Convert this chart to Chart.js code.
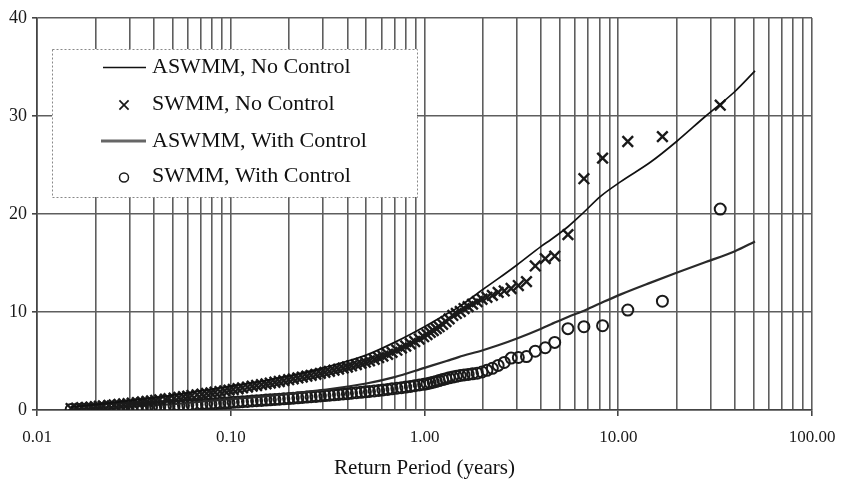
<!DOCTYPE html>
<html><head><meta charset="utf-8">
<script src="https://cdn.jsdelivr.net/npm/chart.js@4.4.1/dist/chart.umd.min.js"></script>
<style>html,body{margin:0;padding:0;background:#fff;}canvas{display:block;}</style>
</head><body>
<canvas id="c" width="852" height="484"></canvas>
<script>
// SWMM ranked events: return period (years)
const swmmReturnPeriod = [
  0.015, 0.016, 0.017, 0.018, 0.019, 0.020, 0.021, 0.022, 0.0235, 0.025,
  0.0265, 0.028, 0.0295, 0.031, 0.033, 0.035, 0.037, 0.039, 0.041, 0.043,
  0.046, 0.048, 0.051, 0.054, 0.057, 0.060, 0.063, 0.067, 0.071, 0.075,
  0.079, 0.083, 0.088, 0.093, 0.098, 0.103, 0.109, 0.115, 0.122, 0.129,
  0.136, 0.144, 0.152, 0.160, 0.169, 0.178, 0.188, 0.199, 0.21, 0.222,
  0.234, 0.247, 0.26, 0.275, 0.29, 0.306, 0.323, 0.341, 0.36, 0.38,
  0.40, 0.42, 0.445, 0.47, 0.495, 0.52, 0.55, 0.58, 0.61, 0.645,
  0.68, 0.72, 0.76, 0.80, 0.845, 0.89, 0.94, 0.99, 1.03, 1.07,
  1.11, 1.15, 1.19, 1.24, 1.29, 1.34, 1.40, 1.46, 1.53, 1.60,
  1.68, 1.77, 1.87, 1.98, 2.10, 2.24, 2.40, 2.58, 2.80, 3.05,
  3.36, 3.73, 4.20, 4.70, 5.50, 6.65, 8.30, 11.2, 16.9, 33.6
];
const swmmNoControl = [
  0.15, 0.19, 0.23, 0.27, 0.30, 0.34, 0.38, 0.42, 0.47, 0.52,
  0.56, 0.61, 0.65, 0.70, 0.76, 0.82, 0.88, 0.93, 0.99, 1.04,
  1.11, 1.15, 1.22, 1.29, 1.35, 1.42, 1.48, 1.55, 1.62, 1.69,
  1.75, 1.81, 1.88, 1.95, 2.02, 2.09, 2.17, 2.25, 2.34, 2.43,
  2.50, 2.59, 2.67, 2.75, 2.83, 2.91, 3.00, 3.09, 3.18, 3.27,
  3.36, 3.45, 3.54, 3.64, 3.74, 3.84, 3.95, 4.06, 4.17, 4.28,
  4.39, 4.50, 4.63, 4.76, 4.89, 5.02, 5.18, 5.34, 5.50, 5.69,
  5.88, 6.10, 6.32, 6.53, 6.76, 6.99, 7.24, 7.48, 7.70, 7.92,
  8.10, 8.30, 8.50, 8.75, 9.02, 9.30, 9.65, 9.85, 10.05, 10.35,
  10.55, 10.80, 11.05, 11.30, 11.50, 11.70, 12.00, 12.15, 12.40, 12.70,
  13.10, 14.70, 15.45, 15.70, 17.90, 23.60, 25.70, 27.40, 27.90, 31.10
];
const swmmWithControl = [
  0.05, 0.06, 0.08, 0.09, 0.11, 0.12, 0.13, 0.15, 0.16, 0.17,
  0.19, 0.20, 0.22, 0.23, 0.25, 0.27, 0.29, 0.31, 0.33, 0.34,
  0.37, 0.39, 0.42, 0.44, 0.46, 0.48, 0.51, 0.54, 0.57, 0.60,
  0.62, 0.65, 0.68, 0.71, 0.74, 0.78, 0.81, 0.85, 0.88, 0.92,
  0.95, 0.98, 1.01, 1.04, 1.07, 1.10, 1.14, 1.17, 1.21, 1.24,
  1.28, 1.32, 1.35, 1.39, 1.43, 1.47, 1.51, 1.55, 1.59, 1.63,
  1.67, 1.71, 1.76, 1.80, 1.85, 1.89, 1.94, 1.99, 2.04, 2.10,
  2.16, 2.22, 2.28, 2.34, 2.41, 2.48, 2.55, 2.62, 2.69, 2.76,
  2.84, 2.92, 3.00, 3.10, 3.20, 3.28, 3.36, 3.44, 3.52, 3.58,
  3.63, 3.69, 3.76, 3.88, 4.05, 4.25, 4.55, 4.85, 5.30, 5.36,
  5.45, 6.00, 6.35, 6.90, 8.30, 8.50, 8.60, 10.20, 11.10, 20.50
];
// ASWMM curves
const aswmmReturnPeriod = [0.015, 0.02, 0.03, 0.05, 0.07, 0.1, 0.15, 0.2, 0.3, 0.5, 0.7, 1.0, 1.3, 1.5, 2.0, 2.4, 3.0, 4.0, 4.5, 5.5, 6.5, 8.1, 10.3, 14.7, 20, 28.3, 40, 50.8];
const aswmmNoControl = [0.3, 0.55, 0.95, 1.5, 1.95, 2.45, 3.0, 3.5, 4.3, 5.6, 6.9, 8.5, 9.8, 10.5, 12.3, 13.4, 14.8, 16.7, 17.4, 18.7, 20.0, 21.8, 23.3, 25.3, 27.4, 30.0, 32.5, 34.6];
const aswmmWithControl = [0.1, 0.2, 0.35, 0.6, 0.85, 1.1, 1.4, 1.65, 2.05, 2.7, 3.35, 4.3, 5.0, 5.4, 6.1, 6.6, 7.3, 8.3, 8.75, 9.5, 10.05, 10.9, 11.8, 13.0, 14.0, 15.1, 16.2, 17.2];

const seriesNames = ['ASWMM, No Control', 'SWMM, No Control', 'ASWMM, With Control', 'SWMM, With Control'];
const xDecades = [0.01, 0.1, 1, 10, 100];
const xTickLabels = ['0.01', '0.10', '1.00', '10.00', '100.00'];
const yTicks = [0, 10, 20, 30, 40];
const xTitle = 'Return Period (years)';

const SERIF = "'Liberation Serif', 'Times New Roman', serif";
const pts = (xs, ys) => xs.map((x, i) => ({ x: x, y: ys[i] }));

const xGrid = [];
for (let i = 0; i < xDecades.length - 1; i++) {
  for (let k = 1; k < 10; k++) xGrid.push(+(xDecades[i] * k).toPrecision(4));
}
xGrid.push(xDecades[xDecades.length - 1]);
const isDecade = v => xDecades.some(d => Math.abs(d - v) / d < 1e-6);

const GRID = '#5e5e5e';

function drawX(ctx, x, y, r) {
  const o = r * Math.SQRT1_2;
  ctx.beginPath();
  ctx.moveTo(x - o, y - o); ctx.lineTo(x + o, y + o);
  ctx.moveTo(x + o, y - o); ctx.lineTo(x - o, y + o);
  ctx.stroke();
}

const boxLegend = {
  id: 'boxLegend',
  afterDraw(chart) {
    const ctx = chart.ctx;
    ctx.save();
    const bx = 52, by = 49, bw = 365, bh = 148;
    ctx.fillStyle = '#fff';
    ctx.fillRect(bx, by, bw, bh);
    ctx.setLineDash([2, 2]);
    ctx.strokeStyle = '#888';
    ctx.lineWidth = 1;
    ctx.strokeRect(bx + 0.5, by + 0.5, bw, bh);
    ctx.setLineDash([]);
    const rows = [66.5, 103, 140, 175.5];
    ctx.strokeStyle = '#111'; ctx.lineWidth = 1.6;
    ctx.beginPath(); ctx.moveTo(103, rows[0] + 1); ctx.lineTo(146, rows[0] + 1); ctx.stroke();
    ctx.strokeStyle = '#1a1a1a'; ctx.lineWidth = 1.7;
    drawX(ctx, 124, rows[1] + 2, 6.5);
    ctx.strokeStyle = '#666'; ctx.lineWidth = 3;
    ctx.beginPath(); ctx.moveTo(101, rows[2] + 1); ctx.lineTo(146, rows[2] + 1); ctx.stroke();
    ctx.strokeStyle = '#1a1a1a'; ctx.lineWidth = 1.5;
    ctx.beginPath(); ctx.arc(124, rows[3] + 2, 4.5, 0, Math.PI * 2); ctx.stroke();
    ctx.fillStyle = '#111';
    ctx.font = '22px ' + SERIF;
    ctx.textBaseline = 'middle';
    ctx.textAlign = 'left';
    seriesNames.forEach((n, i) => ctx.fillText(n, 152, rows[i] + 1));
    ctx.restore();
  }
};

new Chart(document.getElementById('c'), {
  type: 'scatter',
  data: {
    datasets: [
      { label: seriesNames[0], data: pts(aswmmReturnPeriod, aswmmNoControl), showLine: true,
        borderColor: '#111', borderWidth: 1.7, pointRadius: 0, fill: false, cubicInterpolationMode: 'monotone' },
      { label: seriesNames[1], data: pts(swmmReturnPeriod, swmmNoControl), showLine: false,
        pointStyle: 'crossRot', pointRadius: 7.5, borderColor: '#1a1a1a', borderWidth: 2.4, backgroundColor: 'rgba(0,0,0,0)' },
      { label: seriesNames[2], data: pts(aswmmReturnPeriod, aswmmWithControl), showLine: true,
        borderColor: '#2a2a2a', borderWidth: 2.2, pointRadius: 0, fill: false, cubicInterpolationMode: 'monotone' },
      { label: seriesNames[3], data: pts(swmmReturnPeriod, swmmWithControl), showLine: false,
        pointStyle: 'circle', pointRadius: 5.5, borderColor: '#1a1a1a', borderWidth: 2, backgroundColor: 'rgba(0,0,0,0)' }
    ]
  },
  options: {
    responsive: false,
    animation: false,
    devicePixelRatio: 1,
    layout: { padding: { top: 18, right: 40, left: 0, bottom: 0 } },
    plugins: { legend: { display: false }, tooltip: { enabled: false }, title: { display: false } },
    scales: {
      x: {
        type: 'logarithmic', min: 0.01, max: 100, position: 'bottom',
        afterBuildTicks: s => { s.ticks = xGrid.map(v => ({ value: v, major: isDecade(v) })); },
        afterFit: s => { s.height = 74; },
        ticks: {
          autoSkip: false, maxRotation: 0, minRotation: 0, padding: 11, color: '#1a1a1a',
          font: { family: SERIF, size: 17 },
          callback: v => { const i = xDecades.findIndex(d => Math.abs(d - v) / d < 1e-6); return i >= 0 ? xTickLabels[i] : ''; }
        },
        grid: { color: GRID, lineWidth: 1.6, drawTicks: true, tickLength: 6,
          tickColor: c => (c.tick && isDecade(c.tick.value)) ? '#444' : 'rgba(0,0,0,0)' },
        border: { display: true, color: '#444', width: 1.6 },
        title: { display: true, text: xTitle, color: '#111', font: { family: SERIF, size: 21 }, padding: { top: 0, bottom: 3 } }
      },
      y: {
        min: 0, max: 40,
        afterBuildTicks: s => { s.ticks = yTicks.map(v => ({ value: v })); },
        afterFit: s => { s.width = 37; },
        ticks: { padding: 5, color: '#1a1a1a', font: { family: SERIF, size: 18 } },
        grid: { color: GRID, lineWidth: 1.6, drawTicks: true, tickLength: 5, tickColor: '#444' },
        border: { display: true, color: '#444', width: 1.6 }
      }
    }
  },
  plugins: [boxLegend]
});
</script>
</body></html>
